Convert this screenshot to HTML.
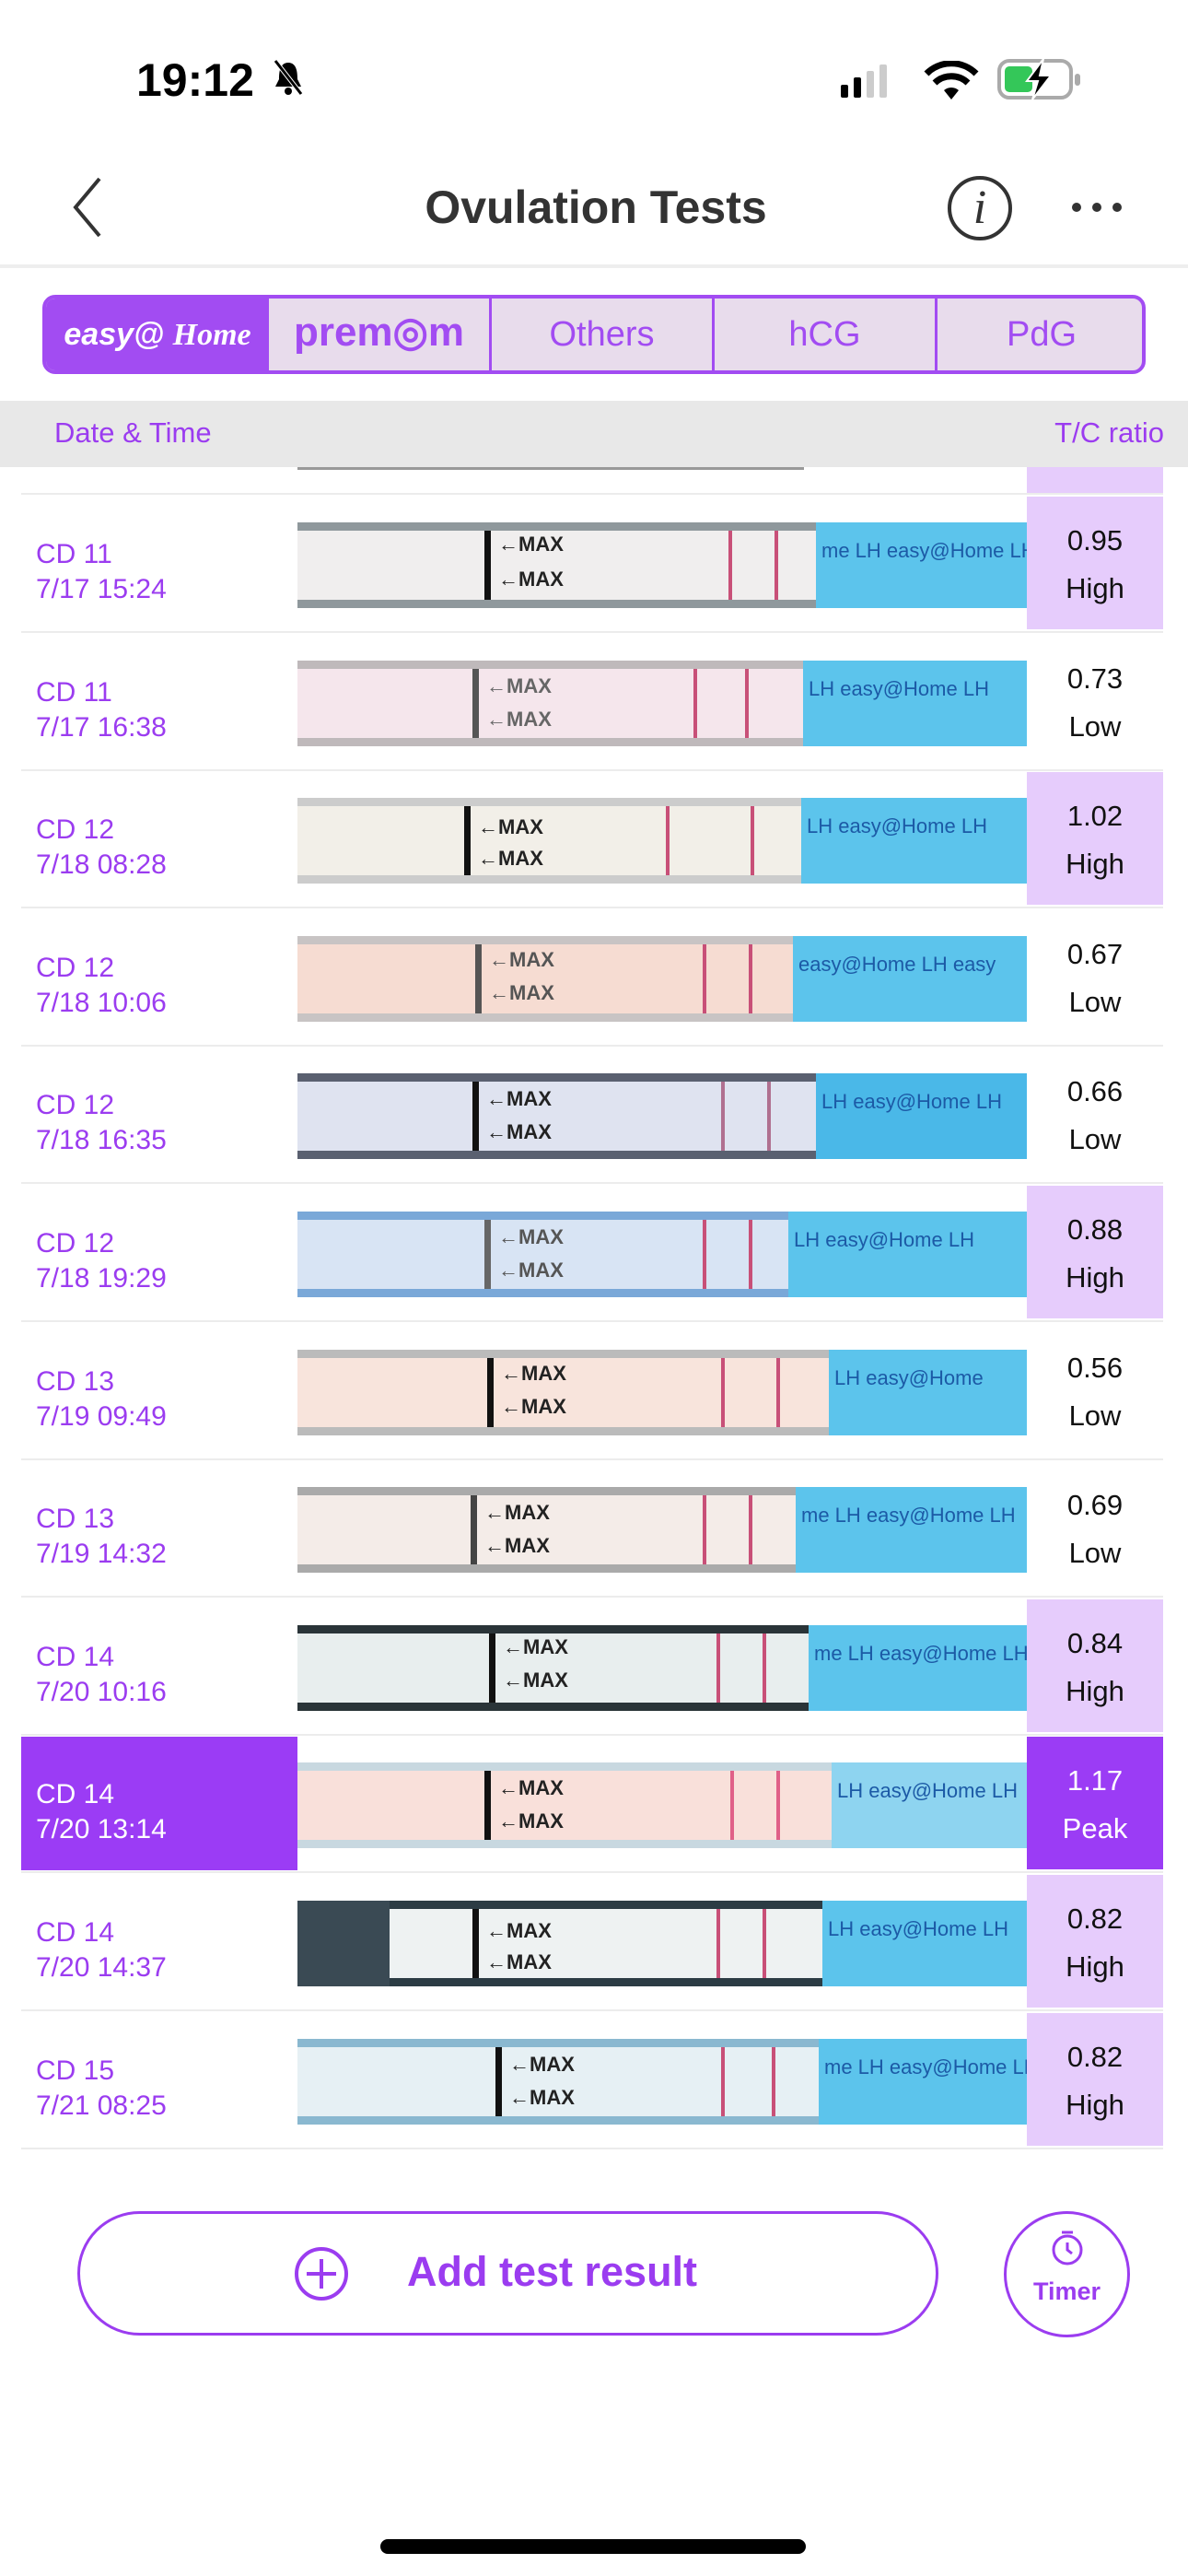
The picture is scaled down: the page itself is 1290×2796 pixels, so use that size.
<!DOCTYPE html>
<html><head><meta charset="utf-8">
<style>
*{margin:0;padding:0;box-sizing:border-box}
body{width:1290px;height:2796px;background:#fff;position:relative;overflow:hidden;font-family:"Liberation Sans",sans-serif}
.a{position:absolute}
.row{position:absolute;left:0;width:1290px;height:150px}
.sep{position:absolute;left:23px;width:1240px;bottom:0;height:2px;background:#ececec}
.dt{position:absolute;left:39px;top:46px;font-size:30px;line-height:38px;color:#9b3cf0}
.tc{position:absolute;left:1115px;width:148px;top:2px;height:144px;text-align:center;font-size:31px;line-height:52px;padding-top:22px;color:#111}
.hi{background:#e6ccfc}
.pk{background:#9b3cf5;color:#fff}
.strip{position:absolute;left:323px;width:792px;top:30px;height:93px;background:#8f989c;overflow:hidden}
.body{position:absolute;left:0;top:9px;height:75px;width:100%}
.bar{position:absolute;top:0;height:75px;width:7px;background:#111}
.mx{position:absolute;font-size:22px;font-weight:bold;color:#222;line-height:22px}
.ln{position:absolute;top:0;height:75px;width:4px;background:#c85078}
.blue{position:absolute;top:0;height:93px;right:0;background:#5cc4ec;color:#1c5aa6;font-size:22px;line-height:30px;white-space:nowrap;overflow:hidden;padding-left:6px;padding-top:16px}
</style></head><body>

<!-- status bar -->
<div class="a" style="left:148px;top:58px;font-size:50px;font-weight:bold;color:#000">19:12</div>
<div class="a" style="left:296px;top:64px;width:34px;height:40px">
<svg width="34" height="40"><path d="M17 4 C8 4 7 14 7 22 L3 30 L31 30 L27 22 C27 14 26 4 17 4Z" fill="#000"/><circle cx="17" cy="35" r="4" fill="#000"/><line x1="3" y1="2" x2="31" y2="38" stroke="#fff" stroke-width="5"/><line x1="3" y1="2" x2="31" y2="38" stroke="#000" stroke-width="3"/></svg></div>
<div class="a" style="left:913px;top:70px"><svg width="66" height="36"><rect x="0" y="22" width="8" height="14" rx="2" fill="#000"/><rect x="14" y="14" width="8" height="22" rx="2" fill="#000"/><rect x="28" y="7" width="8" height="29" rx="2" fill="#ccc"/><rect x="42" y="0" width="8" height="36" rx="2" fill="#ccc"/></svg></div>
<div class="a" style="left:1003px;top:66px"><svg width="60" height="42" viewBox="0 0 60 42"><path d="M30 42 L22 32 A12 12 0 0 1 38 32Z" fill="#000"/><path d="M12 24 A26 26 0 0 1 48 24" stroke="#000" stroke-width="7" fill="none"/><path d="M3 14 A38 38 0 0 1 57 14" stroke="#000" stroke-width="7" fill="none"/></svg></div>
<div class="a" style="left:1083px;top:64px"><svg width="96" height="44"><rect x="2" y="2" width="78" height="40" rx="11" fill="none" stroke="#aaa" stroke-width="4"/><rect x="8" y="8" width="30" height="28" rx="5" fill="#34c759"/><rect x="84" y="16" width="6" height="13" rx="3" fill="#aaa"/><path d="M50 0 L32 24 L44 24 L38 44 L58 18 L46 18 Z" fill="#000" stroke="#fff" stroke-width="2"/></svg></div>

<!-- nav -->
<div class="a" style="left:74px;top:190px"><svg width="40" height="70"><path d="M34 4 L8 35 L34 66" stroke="#333" stroke-width="4" fill="none"/></svg></div>
<div class="a" style="left:0;width:1290px;top:196px;text-align:center;font-size:50px;font-weight:bold;color:#333;padding-left:4px">Ovulation Tests</div>
<div class="a" style="left:1029px;top:191px;width:70px;height:70px;border:4px solid #333;border-radius:50%;text-align:center;font-family:'Liberation Serif',serif;font-style:italic;font-size:52px;line-height:62px;color:#333">i</div>
<div class="a" style="left:1163px;top:218px"><svg width="60" height="14"><circle cx="6" cy="7" r="5" fill="#333"/><circle cx="28" cy="7" r="5" fill="#333"/><circle cx="50" cy="7" r="5" fill="#333"/></svg></div>
<div class="a" style="left:0;top:287px;width:1290px;height:4px;background:#eee"></div>

<!-- tabs -->
<div class="a" style="left:46px;top:320px;width:1198px;height:86px;border:4px solid #a24cf2;border-radius:14px;background:#e8dcec;overflow:hidden">
 <div class="a" style="left:0;top:0;width:242px;height:78px;background:#a24cf2;color:#fff;font-size:34px;font-weight:bold;text-align:center;line-height:78px;font-style:italic">easy@ <span style="font-family:'Liberation Serif',serif">Home</span></div>
 <div class="a" style="left:242px;top:0;width:242px;height:78px;border-right:3px solid #a24cf2;color:#a24cf2;font-size:44px;font-weight:bold;text-align:center;line-height:74px">prem◎m</div>
 <div class="a" style="left:484px;top:0;width:242px;height:78px;border-right:3px solid #a24cf2;color:#a24cf2;font-size:38px;text-align:center;line-height:78px">Others</div>
 <div class="a" style="left:726px;top:0;width:242px;height:78px;border-right:3px solid #a24cf2;color:#a24cf2;font-size:38px;text-align:center;line-height:78px">hCG</div>
 <div class="a" style="left:968px;top:0;width:226px;height:78px;color:#a24cf2;font-size:38px;text-align:center;line-height:78px">PdG</div>
</div>

<!-- header -->
<div class="a" style="left:0;top:435px;width:1290px;height:72px;background:#e8e8e8"></div>
<div class="a" style="left:59px;top:452px;font-size:31px;color:#9b3cf0">Date &amp; Time</div>
<div class="a" style="right:26px;top:452px;font-size:31px;color:#9b3cf0">T/C ratio</div>

<!-- partial row -->
<div class="a" style="left:323px;top:507px;width:550px;height:3px;background:#999"></div>
<div class="a" style="left:1115px;top:507px;width:148px;height:28px;background:#e6ccfc"></div>
<div class="a" style="left:23px;top:535px;width:1240px;height:2px;background:#ececec"></div>

<!-- rows -->
<div class="row" style="top:537px"><div class="dt">CD 11<br>7/17 15:24</div>
<div class="strip"><div class="body" style="background:#f0eeee"><div class="bar" style="left:203px"></div><div class="mx" style="left:218px;top:4px">←MAX</div><div class="mx" style="left:218px;top:42px">←MAX</div><div class="ln" style="left:468px"></div><div class="ln" style="left:518px"></div></div><div class="blue" style="left:563px">me LH easy@Home LH</div></div>
<div class="tc hi">0.95<br>High</div><div class="sep"></div></div>

<div class="row" style="top:687px"><div class="dt">CD 11<br>7/17 16:38</div>
<div class="strip" style="background:#bfb9bb"><div class="body" style="background:#f5e6ec"><div class="bar" style="left:190px;background:#555"></div><div class="mx" style="left:205px;top:8px;color:#666">←MAX</div><div class="mx" style="left:205px;top:44px;color:#666">←MAX</div><div class="ln" style="left:430px"></div><div class="ln" style="left:486px"></div></div><div class="blue" style="left:549px">LH easy@Home LH</div></div>
<div class="tc">0.73<br>Low</div><div class="sep"></div></div>

<div class="row" style="top:836px"><div class="dt">CD 12<br>7/18 08:28</div>
<div class="strip" style="background:#ccc"><div class="body" style="background:#f2efe8"><div class="bar" style="left:181px"></div><div class="mx" style="left:196px;top:12px">←MAX</div><div class="mx" style="left:196px;top:46px">←MAX</div><div class="ln" style="left:400px"></div><div class="ln" style="left:492px"></div></div><div class="blue" style="left:547px">LH easy@Home LH</div></div>
<div class="tc hi">1.02<br>High</div><div class="sep"></div></div>

<div class="row" style="top:986px"><div class="dt">CD 12<br>7/18 10:06</div>
<div class="strip" style="background:#c8c4c4"><div class="body" style="background:#f6dcd2"><div class="bar" style="left:193px;background:#555"></div><div class="mx" style="left:208px;top:6px;color:#555">←MAX</div><div class="mx" style="left:208px;top:42px;color:#555">←MAX</div><div class="ln" style="left:440px"></div><div class="ln" style="left:490px"></div></div><div class="blue" style="left:538px">easy@Home LH easy</div></div>
<div class="tc">0.67<br>Low</div><div class="sep"></div></div>

<div class="row" style="top:1135px"><div class="dt">CD 12<br>7/18 16:35</div>
<div class="strip" style="background:#5a6070"><div class="body" style="background:#dfe3f0"><div class="bar" style="left:190px"></div><div class="mx" style="left:205px;top:8px">←MAX</div><div class="mx" style="left:205px;top:44px">←MAX</div><div class="ln" style="left:460px;background:#b07090"></div><div class="ln" style="left:510px;background:#b07090"></div></div><div class="blue" style="left:563px;background:#4ab8e8">LH easy@Home LH</div></div>
<div class="tc">0.66<br>Low</div><div class="sep"></div></div>

<div class="row" style="top:1285px"><div class="dt">CD 12<br>7/18 19:29</div>
<div class="strip" style="background:#7aa8d8"><div class="body" style="background:#d8e4f4"><div class="bar" style="left:203px;background:#666"></div><div class="mx" style="left:218px;top:8px;color:#555">←MAX</div><div class="mx" style="left:218px;top:44px;color:#555">←MAX</div><div class="ln" style="left:440px"></div><div class="ln" style="left:490px"></div></div><div class="blue" style="left:533px">LH easy@Home LH</div></div>
<div class="tc hi">0.88<br>High</div><div class="sep"></div></div>

<div class="row" style="top:1435px"><div class="dt">CD 13<br>7/19 09:49</div>
<div class="strip" style="background:#bbb"><div class="body" style="background:#f8e4dc"><div class="bar" style="left:206px"></div><div class="mx" style="left:221px;top:6px">←MAX</div><div class="mx" style="left:221px;top:42px">←MAX</div><div class="ln" style="left:460px"></div><div class="ln" style="left:520px"></div></div><div class="blue" style="left:577px">LH easy@Home</div></div>
<div class="tc">0.56<br>Low</div><div class="sep"></div></div>

<div class="row" style="top:1584px"><div class="dt">CD 13<br>7/19 14:32</div>
<div class="strip" style="background:#aaa"><div class="body" style="background:#f4ece8"><div class="bar" style="left:188px;background:#444"></div><div class="mx" style="left:203px;top:8px">←MAX</div><div class="mx" style="left:203px;top:44px">←MAX</div><div class="ln" style="left:440px"></div><div class="ln" style="left:490px"></div></div><div class="blue" style="left:541px">me LH easy@Home LH</div></div>
<div class="tc">0.69<br>Low</div><div class="sep"></div></div>

<div class="row" style="top:1734px"><div class="dt">CD 14<br>7/20 10:16</div>
<div class="strip" style="background:#2a3438"><div class="body" style="background:#e8eeee"><div class="bar" style="left:208px"></div><div class="mx" style="left:223px;top:4px">←MAX</div><div class="mx" style="left:223px;top:40px">←MAX</div><div class="ln" style="left:455px"></div><div class="ln" style="left:505px"></div></div><div class="blue" style="left:555px">me LH easy@Home LH</div></div>
<div class="tc hi">0.84<br>High</div><div class="sep"></div></div>

<div class="row" style="top:1883px"><div class="a" style="left:23px;top:2px;width:300px;height:145px;background:#9b3cf5"></div><div class="dt" style="color:#fff">CD 14<br>7/20 13:14</div>
<div class="strip" style="background:#c8d8e0"><div class="body" style="background:#f9e0da"><div class="bar" style="left:203px"></div><div class="mx" style="left:218px;top:8px">←MAX</div><div class="mx" style="left:218px;top:44px">←MAX</div><div class="ln" style="left:470px;background:#e06088"></div><div class="ln" style="left:520px;background:#e06088"></div></div><div class="blue" style="left:580px;background:#8ed4f0">LH easy@Home LH</div></div>
<div class="tc pk">1.17<br>Peak</div><div class="sep"></div></div>

<div class="row" style="top:2033px"><div class="dt">CD 14<br>7/20 14:37</div>
<div class="strip" style="background:#2c3c44"><div class="a" style="left:0;top:0;width:100px;height:93px;background:#3a4a54"></div><div class="body" style="background:#eef2f2;left:100px;width:auto;right:0"></div><div class="bar" style="left:190px;top:9px"></div><div class="mx" style="left:205px;top:22px">←MAX</div><div class="mx" style="left:205px;top:56px">←MAX</div><div class="ln" style="left:455px;top:9px"></div><div class="ln" style="left:505px;top:9px"></div><div class="blue" style="left:570px">LH easy@Home LH</div></div>
<div class="tc hi">0.82<br>High</div><div class="sep"></div></div>

<div class="row" style="top:2183px"><div class="dt">CD 15<br>7/21 08:25</div>
<div class="strip" style="background:#8ab8d0"><div class="body" style="background:#e6f0f4"><div class="bar" style="left:215px"></div><div class="mx" style="left:230px;top:8px">←MAX</div><div class="mx" style="left:230px;top:44px">←MAX</div><div class="ln" style="left:460px"></div><div class="ln" style="left:515px"></div></div><div class="blue" style="left:566px">me LH easy@Home LH</div></div>
<div class="tc hi">0.82<br>High</div><div class="sep"></div></div>

<!-- bottom -->
<div class="a" style="left:84px;top:2400px;width:935px;height:135px;border:3px solid #9b3cf0;border-radius:68px"></div>
<div class="a" style="left:320px;top:2439px;width:58px;height:58px;border:4px solid #9b3cf0;border-radius:50%"></div>
<div class="a" style="left:347px;top:2452px;width:4px;height:32px;background:#9b3cf0"></div>
<div class="a" style="left:333px;top:2466px;width:32px;height:4px;background:#9b3cf0"></div>
<div class="a" style="left:442px;top:2440px;font-size:45px;font-weight:bold;color:#9b3cf0">Add test result</div>
<div class="a" style="left:1090px;top:2400px;width:137px;height:137px;border:3px solid #9b3cf0;border-radius:50%"></div>
<div class="a" style="left:1140px;top:2420px"><svg width="38" height="40"><circle cx="19" cy="22" r="15" stroke="#9b3cf0" stroke-width="3" fill="none"/><line x1="13" y1="3" x2="25" y2="3" stroke="#9b3cf0" stroke-width="3"/><path d="M19 14 L19 22 L24 26" stroke="#9b3cf0" stroke-width="3" fill="none"/></svg></div>
<div class="a" style="left:1090px;top:2472px;width:137px;text-align:center;font-size:27px;font-weight:bold;color:#9b3cf0">Timer</div>
<div class="a" style="left:413px;top:2756px;width:462px;height:16px;border-radius:8px;background:#000"></div>
</body></html>
